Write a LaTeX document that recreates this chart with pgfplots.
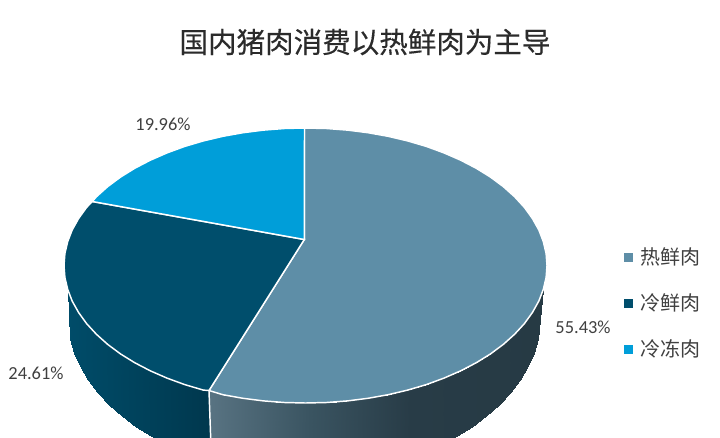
\documentclass[border=0pt]{standalone}
\usepackage{fontspec}
\setmainfont{Carlito}
\newfontfamily\cjk{Noto Sans CJK SC}
\newfontfamily\cjktitle[FakeBold=0.35]{Noto Sans CJK SC}
\usepackage{pgfplots}
\pgfplotsset{compat=1.18}
\definecolor{reshot}{HTML}{5E8EA7}
\definecolor{chilled}{HTML}{004E6C}
\definecolor{frozen}{HTML}{009ED9}
\definecolor{labelgray}{HTML}{404040}
\definecolor{titlegray}{HTML}{2B2B2B}
\pgfplotsset{
  colormap={slateside}{rgb255(0)=(88,115,130); rgb255(3)=(58,84,97); rgb255(6)=(40,60,71); rgb255(10)=(38,58,68)},
  colormap={darkside}{rgb255(0)=(0,76,105); rgb255(1)=(0,56,78)},
}
\begin{document}
\begin{tikzpicture}
\path[use as bounding box] (0,0) rectangle (540pt,327.75pt);
\begin{axis}[
    at={(0,0)},
    anchor=south west,
    scale only axis,
    width=540pt,
    height=327.75pt,
    xmin=0, xmax=720,
    ymin=0, ymax=437,
    y dir=reverse,
    hide axis,
    area legend,
    legend image code/.code={\fill[#1,draw=none] (0pt,-3.4pt) rectangle (6.8pt,3.4pt);},
    legend style={
        at={(axis cs:624,245)}, anchor=north west, draw=none, fill=none,
        inner sep=0pt, outer sep=0pt,
        font=\cjk\fontsize{15pt}{15pt}\selectfont,
        text=labelgray,
        row sep=16.5pt,
        /tikz/every odd column/.append style={column sep=3.75pt},
    },
]
% side of the big slice
\addplot[surf, shader=interp, mesh/rows=2, mesh/ordering=x varies, point meta=x,
    point meta rel=per plot, colormap name=slateside, forget plot] coordinates {
    (543.3,289.4) (538.8,301.1) (532.4,312.5) (524.4,323.6) (514.6,334.25) (503.3,344.4)
    (490.5,353.9) (476.3,362.7) (460.7,370.8) (444.0,378.1) (426.3,384.6) (407.6,390.1)
    (388.1,394.7) (368.0,398.3) (347.4,400.9) (326.5,402.5) (305.5,403.0) (284.5,402.5)
    (263.6,400.9) (243.0,398.3) (222.9,394.7) (209.6,391.0)
    (538.4,338.65) (533.9,352.7) (527.6,366.4) (519.7,379.7) (510.1,392.5) (499.0,404.6)
    (486.3,416.1) (472.3,426.7) (457.0,436.4) (440.5,445.2) (423.0,452.9) (404.6,459.5)
    (385.4,465.0) (365.6,469.4) (345.3,472.5) (324.7,474.4) (304.0,475.0) (283.3,474.4)
    (262.7,472.5) (242.4,469.4) (222.6,465.0) (209.5,461.4)
};
% side of the dark slice
\addplot[surf, shader=interp, mesh/rows=2, mesh/ordering=x varies, point meta=x,
    point meta rel=per plot, colormap name=darkside, forget plot] coordinates {
    (67.7,289.4) (72.2,301.1) (78.6,312.5) (86.6,323.6) (96.4,334.25) (107.7,344.4)
    (120.5,353.9) (134.7,362.7) (150.3,370.8) (167.0,378.1) (184.75,384.6) (203.4,390.1) (209.6,391.0)
    (69.6,338.65) (74.1,352.7) (80.4,366.4) (88.3,379.7) (97.9,392.5) (109.0,404.6)
    (121.7,416.1) (135.7,426.7) (151.0,436.4) (167.5,445.2) (185.0,452.9) (203.4,459.5) (209.5,461.4)
};
\addplot[white, line width=1.1pt, forget plot] coordinates {(209,391) (211.5,461)};
% top faces
\addplot[fill=reshot, draw=white, line width=1.1pt] coordinates {
    (304.3,239.5) (304.5,128.0) (326.5,128.5) (347.4,130.1) (368.0,132.7) (388.1,136.3)
    (407.6,140.9) (426.3,146.4) (444.0,152.9) (460.7,160.2) (476.3,168.3) (490.5,177.1)
    (503.3,186.6) (514.6,196.75) (524.4,207.4) (532.4,218.5) (538.8,229.9) (543.3,241.6)
    (546.1,253.5) (547.0,265.5) (546.1,277.5) (543.3,289.4) (538.8,301.1) (532.4,312.5)
    (524.4,323.6) (514.6,334.25) (503.3,344.4) (490.5,353.9) (476.3,362.7) (460.7,370.8)
    (444.0,378.1) (426.3,384.6) (407.6,390.1) (388.1,394.7) (368.0,398.3) (347.4,400.9)
    (326.5,402.5) (305.5,403.0) (284.5,402.5) (263.6,400.9) (243.0,398.3) (222.9,394.7)
    (209.0,390.5)
} -- cycle;
\addplot[fill=chilled, draw=white, line width=1.1pt] coordinates {
    (304.3,239.5) (209.0,390.5) (203.4,390.1) (184.75,384.6) (167.0,378.1) (150.3,370.8)
    (134.7,362.7) (120.5,353.9) (107.7,344.4) (96.4,334.25) (86.6,323.6) (78.6,312.5)
    (72.2,301.1) (67.7,289.4) (64.9,277.5) (64.0,265.5) (64.9,253.5) (67.7,241.6)
    (72.2,229.9) (78.6,218.5) (86.6,207.4) (92.3,201.5)
} -- cycle;
\addplot[fill=frozen, draw=white, line width=1.1pt] coordinates {
    (304.3,239.5) (92.3,201.5) (96.4,196.75) (107.7,186.6) (120.5,177.1) (134.7,168.3)
    (150.3,160.2) (167.0,152.9) (184.75,146.4) (203.4,140.9) (222.9,136.3) (243.0,132.7)
    (263.6,130.1) (284.5,128.5) (304.5,128.0)
} -- cycle;
\addlegendentry{热鲜肉}
\addlegendentry{冷鲜肉}
\addlegendentry{冷冻肉}
% title and value labels
\node[font=\cjktitle\fontsize{21.4pt}{21.4pt}\selectfont, text=titlegray] at (axis cs:365,42) {国内猪肉消费以热鲜肉为主导};
\node[font=\fontsize{13.8pt}{13.8pt}\selectfont, text=labelgray] at (axis cs:163,124) {19.96\%};
\node[font=\fontsize{13.8pt}{13.8pt}\selectfont, text=labelgray] at (axis cs:36,373) {24.61\%};
\node[font=\fontsize{13.8pt}{13.8pt}\selectfont, text=labelgray] at (axis cs:583,327) {55.43\%};
\end{axis}
\end{tikzpicture}
\end{document}
